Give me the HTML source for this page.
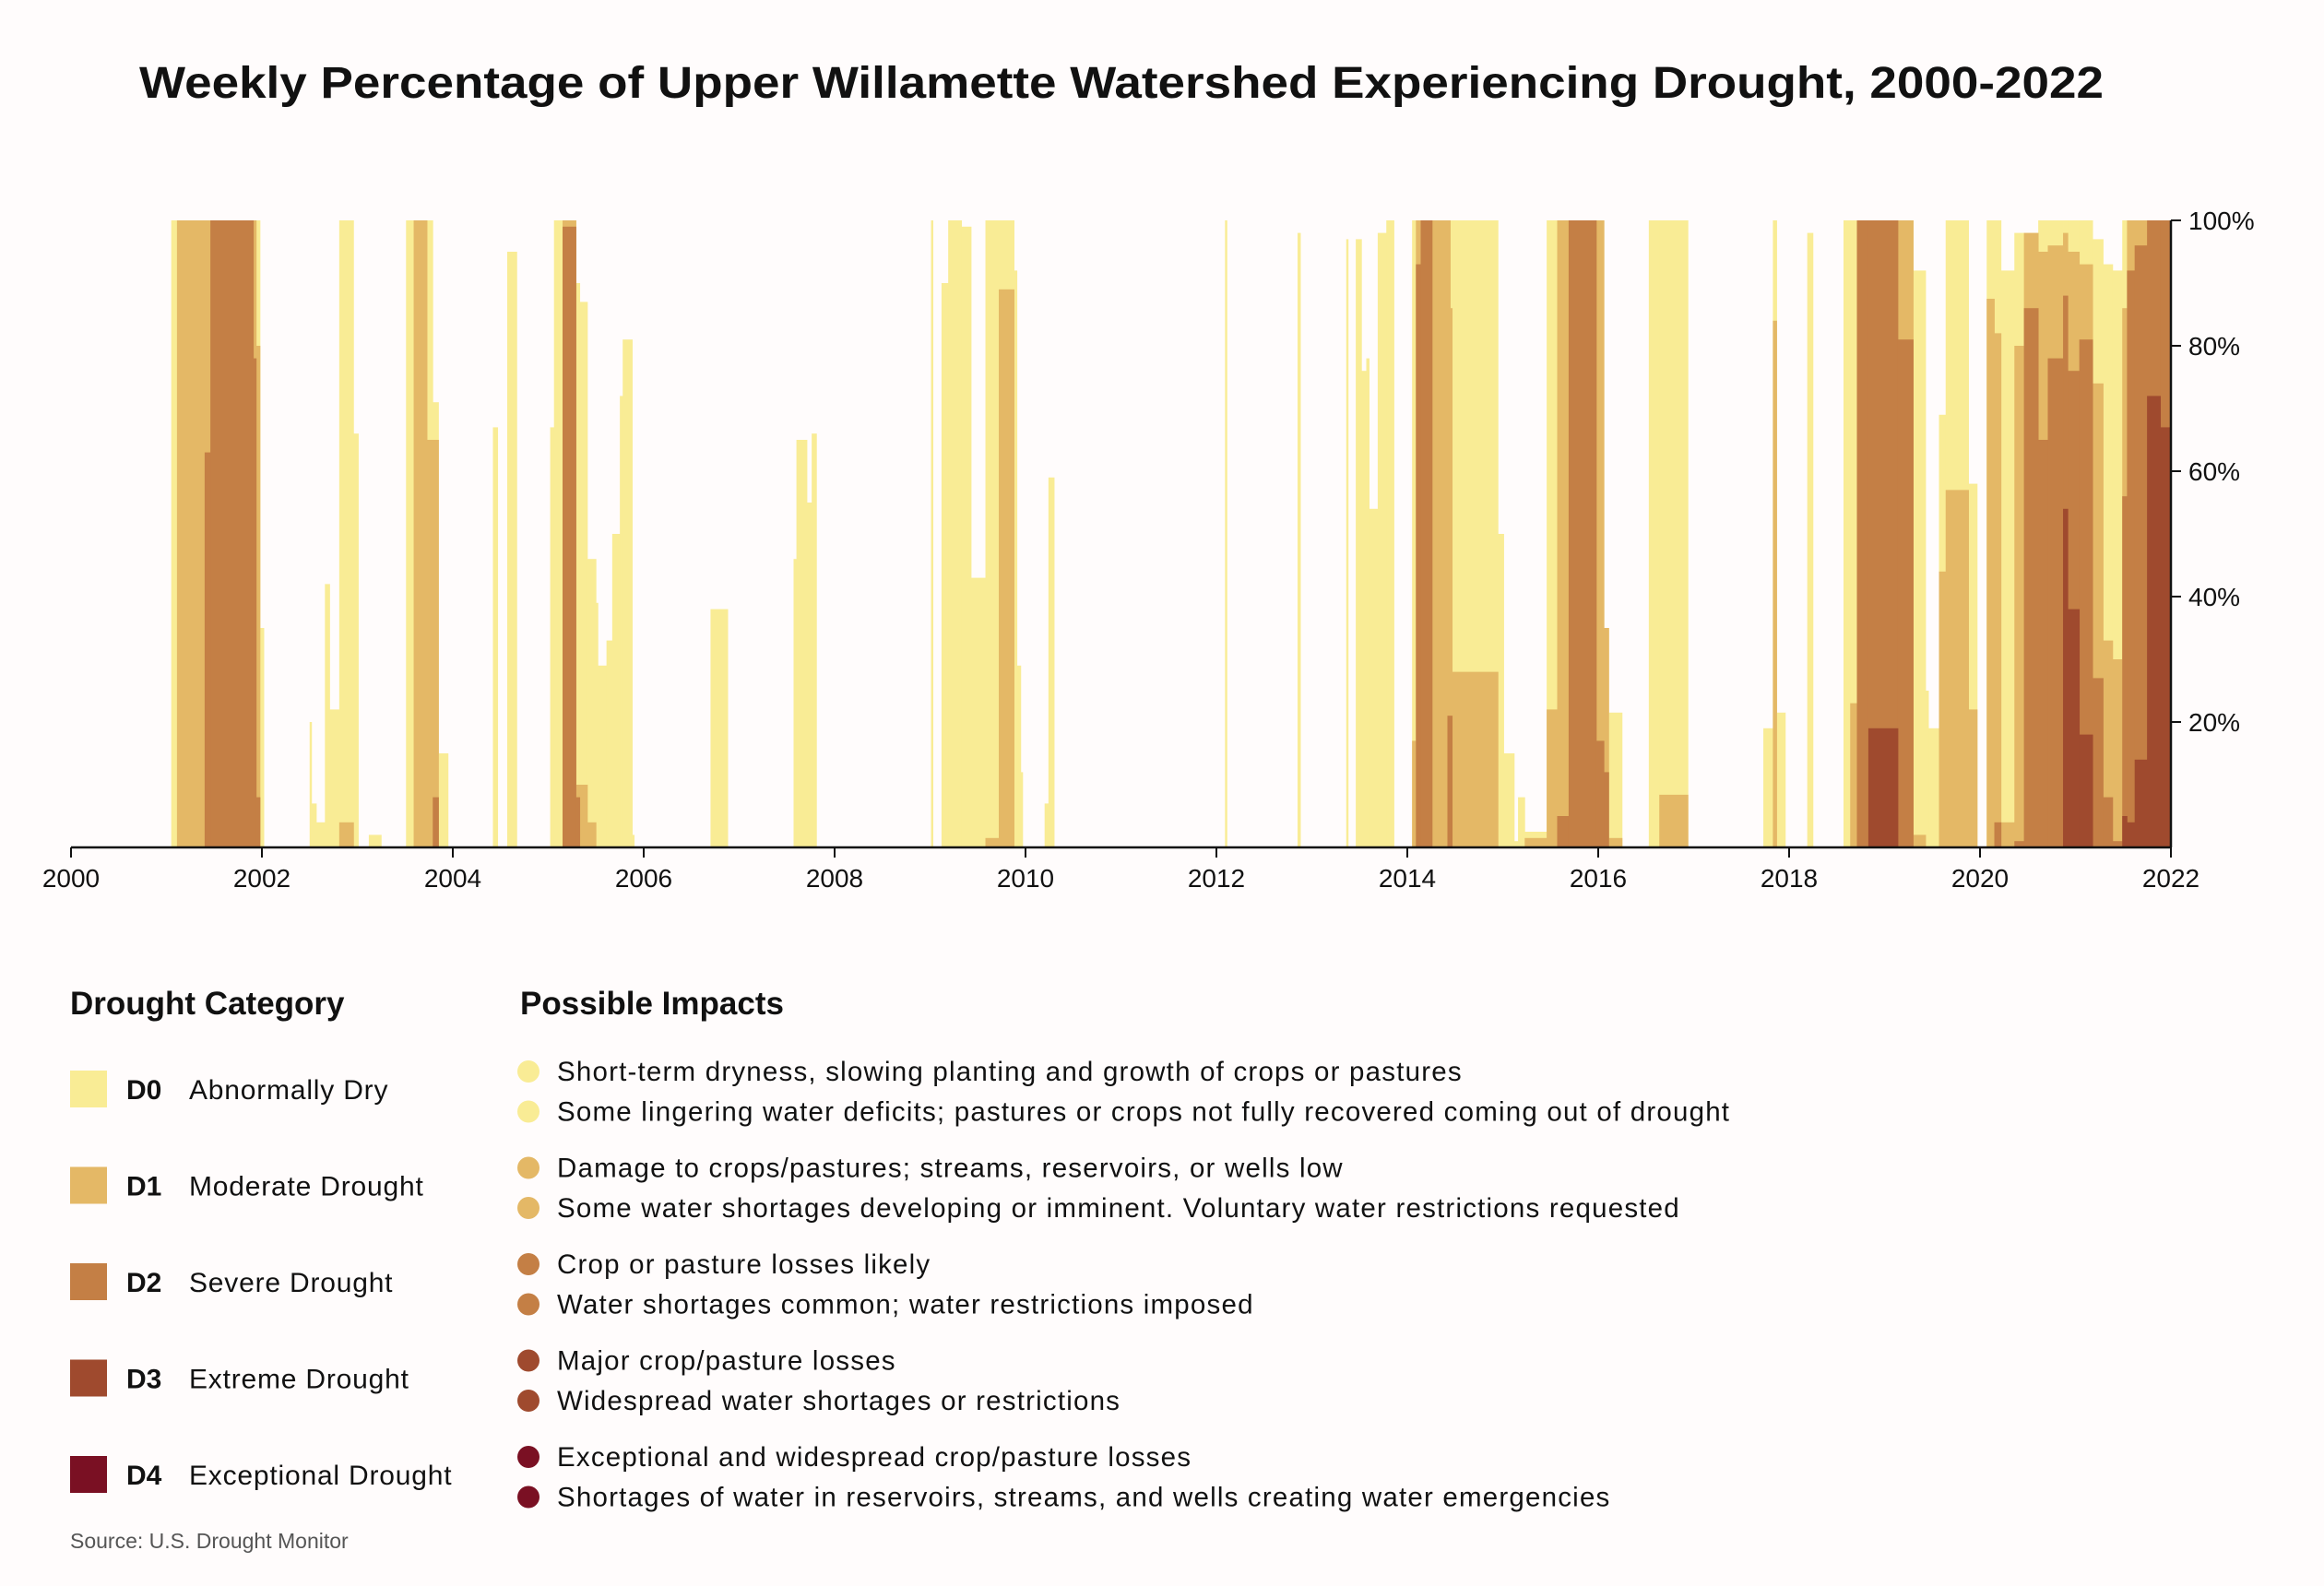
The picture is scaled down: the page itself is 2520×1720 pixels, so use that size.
<!DOCTYPE html>
<html><head><meta charset="utf-8">
<style>
html,body{margin:0;padding:0;background:#fffcfc;}
svg{display:block;font-family:"Liberation Sans",sans-serif;}
</style></head>
<body>
<svg id="chart" width="2520" height="1720" viewBox="0 0 2520 1720" xmlns="http://www.w3.org/2000/svg">
<rect x="0" y="0" width="2520" height="1720" fill="#fffcfc"/>
<text x="1216" y="106" text-anchor="middle" font-size="48" font-weight="bold" fill="#111" textLength="2130" lengthAdjust="spacingAndGlyphs">Weekly Percentage of Upper Willamette Watershed Experiencing Drought, 2000-2022</text>
<g id="bars"></g>
<g id="axes"></g>

<text x="76" y="1100" font-size="35" font-weight="bold" fill="#111">Drought Category</text>
<text x="564" y="1100" font-size="35" font-weight="bold" fill="#111">Possible Impacts</text>
<g id="legend"></g>
<text x="76" y="1679" font-size="23" fill="#555">Source: U.S. Drought Monitor</text>
</svg>
<script>
const segStart=[2001.05,2001.11,2001.40,2001.46,2001.91,2001.94,2001.98,2002.50,2002.52,2002.57,2002.66,2002.71,2002.81,2002.96,2003.12,2003.51,2003.59,2003.73,2003.79,2003.85,2004.42,2004.57,2005.02,2005.06,2005.15,2005.29,2005.33,2005.41,2005.50,2005.52,2005.61,2005.67,2005.75,2005.78,2005.88,2006.70,2007.57,2007.60,2007.71,2007.76,2009.01,2009.12,2009.19,2009.33,2009.43,2009.58,2009.72,2009.88,2009.91,2009.95,2010.20,2010.24,
2012.09,2012.85,2013.36,2013.46,2013.52,2013.57,2013.60,2013.69,2013.78,2014.05,2014.09,2014.14,2014.26,2014.42,2014.45,2014.47,2014.95,2015.01,2015.12,2015.16,2015.23,2015.46,2015.57,2015.69,2015.98,2016.06,2016.11,2016.53,2016.64,2017.73,2017.83,2017.87,2018.19,2018.57,2018.64,2018.71,2018.83,2019.14,2019.30,2019.43,2019.46,2019.57,2019.64,2019.88,2020.07,2020.15,2020.22,2020.36,2020.46,2020.61,2020.71,2020.87,2020.92,2021.04,2021.18,2021.29,2021.39,2021.49,2021.54,2021.62,2021.75,2021.89];
const segEnd=[2001.11,2001.40,2001.46,2001.91,2001.94,2001.98,2002.02,2002.52,2002.57,2002.66,2002.71,2002.81,2002.96,2003.01,2003.25,2003.59,2003.73,2003.79,2003.85,2003.95,2004.47,2004.67,2005.06,2005.15,2005.29,2005.33,2005.41,2005.50,2005.52,2005.61,2005.67,2005.75,2005.78,2005.88,2005.90,2006.88,2007.60,2007.71,2007.76,2007.81,2009.03,2009.19,2009.33,2009.43,2009.58,2009.72,2009.88,2009.91,2009.95,2009.97,2010.24,2010.30,
2012.11,2012.88,2013.38,2013.52,2013.57,2013.60,2013.69,2013.78,2013.86,2014.09,2014.14,2014.26,2014.42,2014.45,2014.47,2014.95,2015.01,2015.12,2015.16,2015.23,2015.46,2015.57,2015.69,2015.98,2016.06,2016.11,2016.25,2016.64,2016.94,2017.83,2017.87,2017.96,2018.25,2018.64,2018.71,2018.83,2019.14,2019.30,2019.43,2019.46,2019.57,2019.64,2019.88,2019.97,2020.15,2020.22,2020.36,2020.46,2020.61,2020.71,2020.87,2020.92,2021.04,2021.18,2021.29,2021.39,2021.49,2021.54,2021.62,2021.75,2021.89,2022.00];
const d0=[100,100,100,100,100,100,35,20,7,4,42,22,100,66,2,100,100,100,71,15,67,95,67,100,100,90,87,46,39,29,33,50,72,81,2,38,46,65,55,66,100,90,100,99,43,100,100,92,29,12,7,59,
100,98,97,97,76,78,54,98,100,100,100,100,100,100,100,100,50,15,1,8,2.5,100,100,100,100,35,21.5,100,100,19,100,21.5,98,100,100,100,100,100,92,25,19,69,100,58,100,100,92,98,98,100,100,100,100,100,97,93,92,100,100,100,100,100];
const d1=[0,100,100,100,100,80,0,0,0,0,0,0,4,0,0,0,100,65,65,0,0,0,0,0,100,10,10,4,0,0,0,0,0,0,0,0,0,0,0,0,0,0,0,0,0,1.5,89,0,0,0,0,0,
0,0,0,0,0,0,0,0,0,17,100,100,100,100,86,28,0,0,0,0,1.5,22,100,100,100,35,1.5,0,8.4,0,84,0,0,0,23,100,100,100,2,0,0,44,57,22,87.5,82,4,80,98,95,96,98,95,93,74,33,30,86,100,100,100,100];
const d2=[0,0,63,100,78,8,0,0,0,0,0,0,0,0,0,0,0,0,8,0,0,0,0,0,99,8,0,0,0,0,0,0,0,0,0,0,0,0,0,0,0,0,0,0,0,0,0,0,0,0,0,0,
0,0,0,0,0,0,0,0,0,0,93,100,0,21,21,0,0,0,0,0,0,0,5,100,17,12,0,0,0,0,0,0,0,0,0,100,100,81,0,0,0,0,0,0,0,4,0,1,86,65,78,88,76,81,27,8,1,56,92,96,100,100];
const d3=[0,0,0,0,0,0,0,0,0,0,0,0,0,0,0,0,0,0,0,0,0,0,0,0,0,0,0,0,0,0,0,0,0,0,0,0,0,0,0,0,0,0,0,0,0,0,0,0,0,0,0,0,
0,0,0,0,0,0,0,0,0,0,0,0,0,0,0,0,0,0,0,0,0,0,0,0,0,0,0,0,0,0,0,0,0,0,0,0,19,0,0,0,0,0,0,0,0,0,0,0,0,0,0,54,38,18,0,0,0,5,4,14,72,67];
const d4=segStart.map(()=>0);
const xTickLabels=["2000","2002","2004","2006","2008","2010","2012","2014","2016","2018","2020","2022"];
const yTickLabels=["20%","40%","60%","80%","100%"];
const yTickValues=[20,40,60,80,100];
const catCodes=["D0","D1","D2","D3","D4"];
const catNames=["Abnormally Dry","Moderate Drought","Severe Drought","Extreme Drought","Exceptional Drought"];
const impacts=[["Short-term dryness, slowing planting and growth of crops or pastures","Some lingering water deficits; pastures or crops not fully recovered coming out of drought"],["Damage to crops/pastures; streams, reservoirs, or wells low","Some water shortages developing or imminent. Voluntary water restrictions requested"],["Crop or pasture losses likely","Water shortages common; water restrictions imposed"],["Major crop/pasture losses","Widespread water shortages or restrictions"],["Exceptional and widespread crop/pasture losses","Shortages of water in reservoirs, streams, and wells creating water emergencies"]];
const colors=["#f9ec95","#e4b866","#c47f45","#9f4a2e","#7a1023"];

const NS="http://www.w3.org/2000/svg";
const X0=77,X1=2354,Y0=919,Y1=239;
const xs=v=>X0+(v-2000)/22*(X1-X0);
const ys=p=>Y0-p/100*(Y0-Y1);
function mk(tag,attrs,parent){const e=document.createElementNS(NS,tag);for(const k in attrs)e.setAttribute(k,attrs[k]);parent.appendChild(e);return e;}
const bars=document.getElementById('bars');
const series=[d0,d1,d2,d3,d4];
series.forEach((arr,c)=>{
  const g=mk('g',{fill:colors[c]},bars);
  
  
  arr.forEach((v,i)=>{
    if(v<=0)return;
    const x=xs(segStart[i]),w=xs(segEnd[i])-x;
    const r=mk('rect',{x:x.toFixed(2),y:ys(v).toFixed(2),width:(w+0.4).toFixed(2),height:(Y0-ys(v)).toFixed(2)},g);
    
    
  });
});
const ax=document.getElementById('axes');
const xl=mk('line',{x1:X0,x2:X1+1,y1:Y0,y2:Y0,stroke:'#111','stroke-width':2.5},ax);


const yl=mk('line',{x1:X1,x2:X1,y1:Y1,y2:Y0,stroke:'#111','stroke-width':2.5},ax);


xTickLabels.forEach(t=>{
  const x=xs(+t);
  const tk=mk('line',{x1:x,x2:x,y1:Y0,y2:Y0+11,stroke:'#111','stroke-width':2},ax);
  
  
  const tx=mk('text',{x:x,y:962,'text-anchor':'middle','font-size':28,fill:'#111'},ax);
  tx.textContent=t;
  
  
});
yTickValues.forEach((v,i)=>{
  const y=ys(v);
  const tk=mk('line',{x1:X1,x2:X1+11,y1:y,y2:y,stroke:'#111','stroke-width':2},ax);
  
  
  const tx=mk('text',{x:2373,y:y+10,'font-size':28,fill:'#111'},ax);
  tx.textContent=yTickLabels[i];
  
  
});
const lg=document.getElementById('legend');
catCodes.forEach((c,i)=>{
  const cy=1181+i*104.5;
  const sw=mk('rect',{x:76,y:cy-20,width:40,height:40,fill:colors[i]},lg);
  
  
  const code=mk('text',{x:137,y:cy+11,'font-size':30,'font-weight':'bold',fill:'#111'},lg);
  code.textContent=c;
  
  
  const nm=mk('text',{x:205,y:cy+11,'font-size':30,'letter-spacing':0.8,fill:'#111'},lg);
  nm.textContent=catNames[i];
  
  
  impacts[i].forEach((s,j)=>{
    const ty=1162+i*104.5+j*43.5;
    const dot=mk('circle',{cx:573,cy:ty,r:12,fill:colors[i]},lg);
    
    
    const t=mk('text',{x:604,y:ty+10,'font-size':29.5,'letter-spacing':1.2,fill:'#111'},lg);
    t.textContent=s;
    
    
  });
});
</script>
</body></html>
